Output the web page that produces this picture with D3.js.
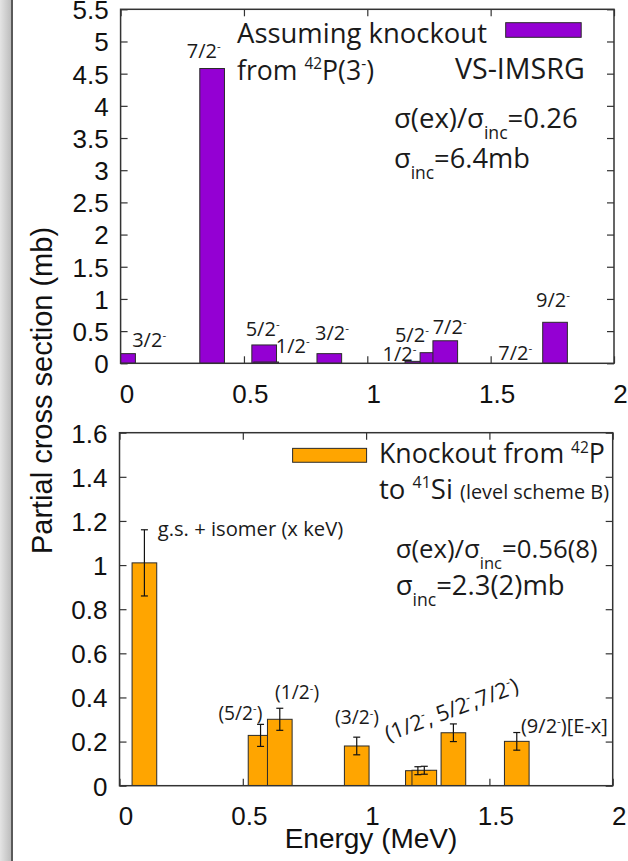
<!DOCTYPE html>
<html><head><meta charset="utf-8">
<script src="https://cdn.jsdelivr.net/npm/d3@7"></script>
<style>
html,body{margin:0;padding:0;background:#fff;}
svg{display:block;}
</style></head>
<body>
<svg id="chart" width="628" height="861"></svg>
<script>
// ---------- DATA ----------
const xTicks = [0, 0.5, 1, 1.5, 2];
const topYTicks = [0,0.5,1,1.5,2,2.5,3,3.5,4,4.5,5,5.5];
const botYTicks = [0,0.2,0.4,0.6,0.8,1,1.2,1.4,1.6];

// Top panel: VS-IMSRG theory (purple)
const topEnergy = [0.01, 0.371, 0.582, 0.59, 0.846, 1.203, 1.264, 1.316, 1.60, 1.761];
const topSigma  = [0.15, 4.58, 0.285, 0.02, 0.15, 0.03, 0.165, 0.35, 0.0, 0.637];
const topSpin   = ["3/2","7/2","5/2","1/2","3/2","1/2","5/2","7/2","7/2","9/2"];
const topLabelE = [0.047, 0.268, 0.507, 0.629, 0.788, 1.062, 1.112, 1.265, 1.531, 1.684];
const topLabelV = [0.249, 4.748, 0.429, 0.165, 0.362, 0.036, 0.326, 0.451, 0.051, 0.87];

// Bottom panel: experiment (orange)
const botEnergy = [0.101, 0.572, 0.65, 0.962, 1.21, 1.236, 1.354, 1.611];
const botSigma  = [1.01, 0.228, 0.301, 0.18, 0.068, 0.07, 0.24, 0.201];
const botError  = [0.15, 0.05, 0.05, 0.04, 0.018, 0.018, 0.04, 0.04];

const barWidthMeV = 0.1;

// ---------- LAYOUT ----------
const svg = d3.select("#chart");
const TICKFONT = "'Liberation Sans', Arial, sans-serif";
const ANNFONT = "'Open Sans', 'Noto Sans', sans-serif";
const frameColor = "#333";

// left window-edge strip
const grad = svg.append("defs").append("linearGradient").attr("id","edge").attr("x1",0).attr("x2",1);
grad.append("stop").attr("offset","0%").attr("stop-color","#e4e4e4");
grad.append("stop").attr("offset","100%").attr("stop-color","#bdbdbd");
svg.append("rect").attr("x",0).attr("y",0).attr("width",11).attr("height",861).attr("fill","url(#edge)");
svg.append("rect").attr("x",11).attr("y",0).attr("width",2).attr("height",861).attr("fill","#5a5a5a");

const panels = [
  {x0:120.6, x1:614, y0:9.3, y1:363.3, ymax:5.5, yticks: topYTicks, id:"top"},
  {x0:119.5, x1:612.7, y0:432.7, y1:785.7, ymax:1.6, yticks: botYTicks, id:"bot"}
];

function makePanel(p){
  const x = d3.scaleLinear().domain([0,2]).range([p.x0,p.x1]);
  const y = d3.scaleLinear().domain([0,p.ymax]).range([p.y1,p.y0]);
  svg.append("clipPath").attr("id","clip-"+p.id).append("rect")
    .attr("x",p.x0).attr("y",p.y0).attr("width",p.x1-p.x0).attr("height",p.y1-p.y0);
  const g = svg.append("g");
  const left = g.append("g").attr("transform",`translate(${p.x0},0)`)
    .call(d3.axisLeft(y).tickValues(p.yticks).tickFormat(d3.format("~g")).tickSize(-7).tickPadding(12));
  const right = g.append("g").attr("transform",`translate(${p.x1},0)`)
    .call(d3.axisRight(y).tickValues(p.yticks).tickFormat("").tickSize(-7));
  const bottom = g.append("g").attr("transform",`translate(0,${p.y1})`)
    .call(d3.axisBottom(x).tickValues(xTicks).tickFormat(d3.format("~g")).tickSize(-7).tickPadding(21));
  const top = g.append("g").attr("transform",`translate(0,${p.y0})`)
    .call(d3.axisTop(x).tickValues(xTicks).tickFormat("").tickSize(-7));
  [left,right,bottom,top].forEach(a=>{
    a.select(".domain").remove();
    a.selectAll(".tick line").attr("stroke",frameColor).attr("stroke-width",1.2);
    a.selectAll("text").attr("font-family",TICKFONT).attr("font-size",26).attr("fill","#111");
  });
  bottom.selectAll("text").attr("transform","translate(6,0)");
  left.selectAll("text").attr("dy","0.36em");
  return {x,y,g};
}

function rich(g, x, y, parts, fs, anchor){
  const t = g.append("text").attr("x",x).attr("y",y).attr("font-family",ANNFONT)
    .attr("font-size",fs).attr("fill","#1a1a1a").attr("text-anchor",anchor||"start");
  let shift = 0;
  parts.forEach(([s,type])=>{
    let size = fs, target = 0;
    if(type==="sup"){ size = fs*0.58; target = -fs*0.40; }
    else if(type==="sub"){ size = fs*0.64; target = fs*0.40; }
    else if(type==="small"){ size = fs*0.72; }
    t.append("tspan").attr("font-size",size).attr("dy",target-shift).text(s);
    shift = target;
  });
  return t;
}
function richFit(g, x, y, parts, width, fs0){
  const t = rich(g,x,y,parts,fs0);
  const w = t.node().getComputedTextLength();
  t.remove();
  return rich(g,x,y,parts,fs0*width/w);
}

// ---------- TOP PANEL ----------
{
  const p = panels[0];
  const {x,y,g} = makePanel(p);
  const bw = x(barWidthMeV)-x(0);
  g.append("g").attr("clip-path","url(#clip-top)").selectAll("rect")
    .data(topEnergy.map((e,i)=>({e,v:topSigma[i]})).filter(d=>d.v>0))
    .join("rect")
    .attr("x",d=>x(d.e-barWidthMeV/2)).attr("width",bw)
    .attr("y",d=>y(d.v)).attr("height",d=>y(0)-y(d.v))
    .attr("fill","#9400d3").attr("stroke","#2a2a2a").attr("stroke-width",1);
  topSpin.forEach((s,i)=>{
    rich(g, x(topLabelE[i]), y(topLabelV[i]), [[s,""],["-","sup"]], 20);
  });
  g.append("rect").attr("x",p.x0).attr("y",p.y0).attr("width",p.x1-p.x0).attr("height",p.y1-p.y0)
    .attr("fill","none").attr("stroke",frameColor).attr("stroke-width",1.5);
  g.append("rect").attr("x",x(1.561)).attr("y",y(5.292)).attr("width",x(1.867)-x(1.561)).attr("height",y(5.065)-y(5.292))
    .attr("fill","#9400d3").attr("stroke","#2a2a2a").attr("stroke-width",1);
  richFit(g, x(0.472), y(4.977), [["Assuming knockout",""]], 250, 24);
  richFit(g, x(0.472), y(4.402), [["from ",""],["42","sup"],["P(3",""],["-","sup"],[")",""]], 137, 24);
  richFit(g, x(1.355), y(4.418), [["VS-IMSRG",""]], 130, 24);
  richFit(g, x(1.108), y(3.656), [["σ(ex)/σ",""],["inc","sub"],["=0.26",""]], 184, 24);
  richFit(g, x(1.108), y(3.03), [["σ",""],["inc","sub"],["=6.4mb",""]], 136, 24);
}

// ---------- BOTTOM PANEL ----------
{
  const p = panels[1];
  const {x,y,g} = makePanel(p);
  const bw = x(barWidthMeV)-x(0);
  const data = botEnergy.map((e,i)=>({e,v:botSigma[i],err:botError[i]}));
  g.append("g").attr("clip-path","url(#clip-bot)").selectAll("rect").data(data).join("rect")
    .attr("x",d=>x(d.e-barWidthMeV/2)).attr("width",bw)
    .attr("y",d=>y(d.v)).attr("height",d=>y(0)-y(d.v))
    .attr("fill","#ffa500").attr("stroke","#2a2a2a").attr("stroke-width",1);
  const eb = g.append("g").attr("stroke","#111").attr("stroke-width",1.2);
  data.forEach(d=>{
    const cx = x(d.e);
    eb.append("line").attr("x1",cx).attr("x2",cx).attr("y1",y(d.v+d.err)).attr("y2",y(d.v-d.err));
    eb.append("line").attr("x1",cx-3.5).attr("x2",cx+3.5).attr("y1",y(d.v+d.err)).attr("y2",y(d.v+d.err));
    eb.append("line").attr("x1",cx-3.5).attr("x2",cx+3.5).attr("y1",y(d.v-d.err)).attr("y2",y(d.v-d.err));
  });
  g.append("rect").attr("x",p.x0).attr("y",p.y0).attr("width",p.x1-p.x0).attr("height",p.y1-p.y0)
    .attr("fill","none").attr("stroke",frameColor).attr("stroke-width",1.5);
  richFit(g, x(0.155), y(1.132), [["g.s. + isomer (x keV)",""]], 185.6, 17);
  richFit(g, x(0.401), y(0.298), [["(5/2",""],["-","sup"],[")",""]], 44, 20);
  richFit(g, x(0.631), y(0.392), [["(1/2",""],["-","sup"],[")",""]], 44, 20);
  richFit(g, x(0.874), y(0.278), [["(3/2",""],["-","sup"],[")",""]], 44, 20);
  const rg = g.append("g").attr("transform",`translate(${x(1.09)},${y(0.2)}) rotate(-20.7)`);
  richFit(rg, 0, 0, [["(1/2",""],["-","sup"],[", 5/2",""],["-","sup"],[",7/2",""],["-","sup"],[")",""]], 141, 20);
  richFit(g, x(1.628), y(0.24), [["(9/2",""],["-","sup"],[")[E-x]",""]], 87, 18);
  g.append("rect").attr("x",x(0.702)).attr("y",y(1.529)).attr("width",x(1.002)-x(0.702)).attr("height",y(1.466)-y(1.529))
    .attr("fill","#ffa500").attr("stroke","#2a2a2a").attr("stroke-width",1);
  richFit(g, x(1.052), y(1.461), [["Knockout from ",""],["42","sup"],["P",""]], 226, 24);
  richFit(g, x(1.052), y(1.298), [["to ",""],["41","sup"],["Si ",""],["(level scheme B)","small"]], 230, 24);
  richFit(g, x(1.12), y(1.031), [["σ(ex)/σ",""],["inc","sub"],["=0.56(8)",""]], 202, 24);
  richFit(g, x(1.12), y(0.864), [["σ",""],["inc","sub"],["=2.3(2)mb",""]], 169, 24);
}

// ---------- AXIS TITLES ----------
svg.append("text").attr("transform","translate(52,390.5) rotate(-90)")
  .attr("text-anchor","middle").attr("font-family",TICKFONT).attr("font-size",29).attr("fill","#111")
  .text("Partial cross section (mb)");
svg.append("text").attr("x",371).attr("y",847.5)
  .attr("text-anchor","middle").attr("font-family",TICKFONT).attr("font-size",28).attr("fill","#111")
  .text("Energy (MeV)");
</script>
</body></html>
